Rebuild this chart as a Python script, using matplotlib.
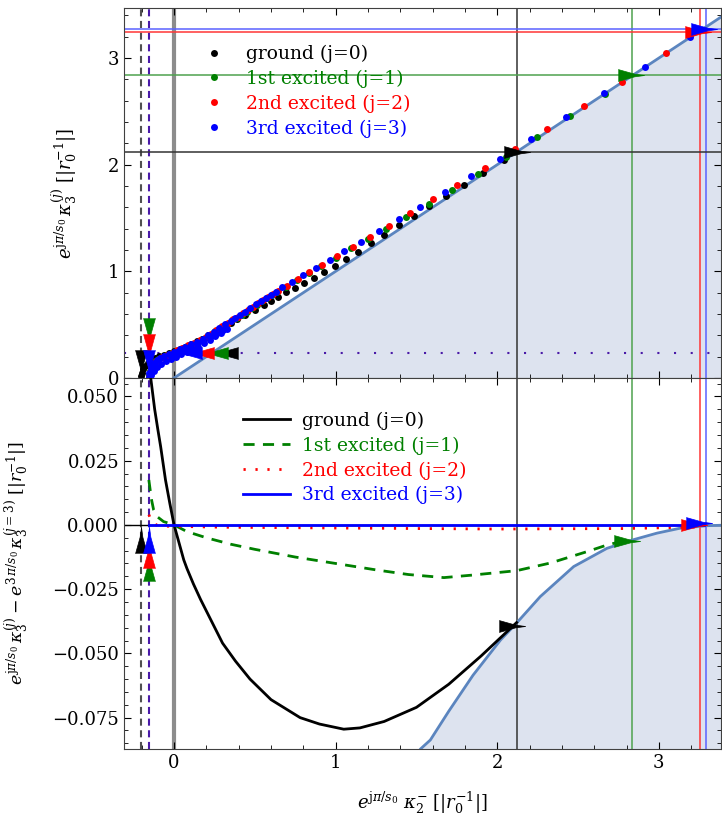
import numpy as np
import matplotlib
matplotlib.use("Agg")
import matplotlib.pyplot as plt
from matplotlib.ticker import MultipleLocator, FuncFormatter

plt.rcParams['font.family'] = ['DejaVu Serif']
plt.rcParams['mathtext.fontset'] = 'dejavuserif'

# ---- top panel: kappa3 vs kappa2 for each state ----
k2_ground = [-0.207, -0.2, -0.19, -0.178, -0.162, -0.143, -0.12, -0.095, -0.065, -0.033,
             0.0, 0.035, 0.07, 0.105, 0.14, 0.175, 0.21, 0.245, 0.28, 0.315,
             0.35, 0.39, 0.44, 0.5, 0.555, 0.597, 0.646, 0.695, 0.747, 0.803,
             0.863, 0.925, 0.993, 1.065, 1.139, 1.217, 1.302, 1.39, 1.483, 1.58,
             1.685, 1.797, 1.912, 2.04]
k3_ground = [0.02, 0.05, 0.08, 0.11, 0.14, 0.165, 0.19, 0.205, 0.22, 0.235,
             0.25, 0.27, 0.295, 0.32, 0.345, 0.37, 0.40, 0.43, 0.46, 0.49,
             0.52, 0.55, 0.59, 0.64, 0.684, 0.725, 0.762, 0.805, 0.846, 0.888,
             0.94, 0.993, 1.05, 1.115, 1.181, 1.262, 1.34, 1.43, 1.518, 1.61,
             1.71, 1.81, 1.92, 2.045]

k2_first = [-0.156, -0.151, -0.142, -0.13, -0.116, -0.098, -0.076, -0.05, -0.02, 0.012,
            0.046, 0.082, 0.118, 0.154, 0.19, 0.224, 0.256, 0.291, 0.326, 0.36,
            0.39, 0.42, 0.452, 0.485, 0.515, 0.545, 0.577, 0.608, 0.64, 0.69,
            0.758, 0.832, 0.912, 1.0, 1.098, 1.2, 1.314, 1.438, 1.575, 1.72,
            1.88, 2.054, 2.244, 2.452, 2.665]
k3_first = [0.03, 0.065, 0.1, 0.13, 0.155, 0.177, 0.196, 0.215, 0.233, 0.252,
            0.275, 0.298, 0.32, 0.346, 0.376, 0.407, 0.438, 0.474, 0.508, 0.54,
            0.565, 0.592, 0.622, 0.655, 0.688, 0.718, 0.746, 0.774, 0.802, 0.855,
            0.918, 0.98, 1.05, 1.128, 1.216, 1.30, 1.396, 1.506, 1.63, 1.762,
            1.912, 2.074, 2.259, 2.455, 2.665]

k2_second = [-0.156, -0.15, -0.14, -0.128, -0.113, -0.095, -0.072, -0.045, -0.015, 0.018,
             0.052, 0.088, 0.124, 0.16, 0.196, 0.23, 0.262, 0.297, 0.332, 0.365,
             0.395, 0.425, 0.457, 0.49, 0.52, 0.55, 0.582, 0.613, 0.645, 0.696,
             0.764, 0.838, 0.918, 1.007, 1.106, 1.211, 1.328, 1.458, 1.60, 1.753,
             1.922, 2.108, 2.31, 2.534, 2.772, 3.044]
k3_second = [0.012, 0.06, 0.1, 0.13, 0.158, 0.18, 0.198, 0.218, 0.236, 0.258,
             0.282, 0.305, 0.328, 0.355, 0.385, 0.417, 0.448, 0.485, 0.52, 0.55,
             0.576, 0.605, 0.637, 0.67, 0.703, 0.733, 0.762, 0.79, 0.82, 0.865,
             0.928, 0.99, 1.062, 1.14, 1.23, 1.324, 1.427, 1.543, 1.675, 1.812,
             1.968, 2.143, 2.334, 2.549, 2.775, 3.046]

# j=3 points; the low-kappa part is sampled densely and forms a thick band
k2_third = [-0.156, -0.152, -0.145, -0.135, -0.122, -0.105, -0.085, -0.06, -0.03, 0.0,
            0.035, 0.07, 0.105, 0.143, 0.18, 0.213, 0.245, 0.28, 0.315, 0.35,
            0.38, 0.41, 0.44, 0.473, 0.505, 0.535, 0.567, 0.597, 0.63, 0.665,
            0.731, 0.80, 0.879, 0.964, 1.054, 1.158, 1.269, 1.395, 1.52, 1.677,
            1.84, 2.02, 2.21, 2.427, 2.662, 2.916, 3.194,
            -0.15, -0.14, -0.125, -0.105, -0.08, -0.05, -0.02, 0.01, 0.045, 0.08,
            0.115, 0.15, 0.185, 0.22, 0.255, 0.29, 0.325,
            -0.02, 0.02, 0.06, 0.1, 0.14, 0.18, 0.22, 0.26, 0.3]
k3_third = [0.01, 0.045, 0.08, 0.115, 0.145, 0.17, 0.19, 0.208, 0.228, 0.245,
            0.27, 0.295, 0.317, 0.34, 0.37, 0.40, 0.434, 0.47, 0.503, 0.537,
            0.563, 0.59, 0.622, 0.656, 0.69, 0.722, 0.75, 0.778, 0.81, 0.85,
            0.903, 0.962, 1.031, 1.106, 1.187, 1.278, 1.378, 1.487, 1.605, 1.743,
            1.893, 2.055, 2.24, 2.443, 2.668, 2.918, 3.198,
            0.0, 0.03, 0.065, 0.1, 0.135, 0.16, 0.18, 0.2, 0.222, 0.245,
            0.27, 0.295, 0.325, 0.355, 0.39, 0.425, 0.46,
            0.215, 0.24, 0.265, 0.29, 0.318, 0.348, 0.38, 0.415, 0.45]

# threshold line kappa3 = kappa2
thr_x = [0.0, 3.45]
thr_y = [0.0, 3.45]

# ---- bottom panel: differences to the j=3 state ----
d_ground_x = [-0.152, -0.145, -0.12, -0.1, -0.083, -0.053, -0.025, 0.0, 0.06, 0.08,
              0.12, 0.164, 0.22, 0.3, 0.38, 0.47, 0.6, 0.78, 0.9, 1.05,
              1.15, 1.3, 1.5, 1.7, 1.9, 2.12]
d_ground_y = [0.066, 0.0575, 0.045, 0.037, 0.0305, 0.0175, 0.008, 0.0, -0.0136, -0.017,
              -0.023, -0.029, -0.036, -0.046, -0.053, -0.060, -0.068, -0.075, -0.0775, -0.0795,
              -0.079, -0.0765, -0.071, -0.062, -0.051, -0.038]

d_first_x = [-0.156, -0.14, -0.127, -0.1, -0.065, 0.0, 0.08, 0.2, 0.35, 0.5,
             0.75, 1.0, 1.25, 1.45, 1.67, 1.85, 2.12, 2.33, 2.555, 2.68, 2.83]
d_first_y = [0.0175, 0.01, 0.006, 0.003, 0.0013, 0.0, -0.0026, -0.005, -0.0075, -0.0095,
             -0.0125, -0.015, -0.0175, -0.0193, -0.0205, -0.0195, -0.0178, -0.0148, -0.0104, -0.0078, -0.0055]

d_second_x = [-0.156, -0.14, -0.11, -0.05, 0.3, 1.0, 2.0, 2.8, 3.245]
d_second_y = [0.004, 0.0015, 0.0, -0.0005, -0.0009, -0.0012, -0.0016, -0.0014, -0.0008]

d_third_x = [-0.156, 3.28]
d_third_y = [0.0, 0.0]

bnd_x = [1.5, 1.525, 1.586, 1.7, 1.85, 2.02, 2.118, 2.266, 2.473, 2.679,
         2.84, 2.988, 3.13, 3.297, 3.45]
bnd_y = [-0.0895, -0.0872, -0.0837, -0.0725, -0.0585, -0.0448, -0.0383, -0.0279, -0.0162, -0.0091,
         -0.0058, -0.0032, -0.0013, -0.0003, 0.0]

# end points (arrows) and reference lines
end_x_top = [2.12, 2.83, 3.245, 3.28]
end_y_top = [2.12, 2.84, 3.245, 3.275]
end_x_bot = [2.09, 2.805, 3.215, 3.25]
end_y_bot = [-0.0393, -0.0061, -0.0002, 0.0006]
vline_x = [2.12, 2.835, 3.255, 3.29]
hline_y = [2.12, 2.84, 3.245, 3.277]
start_x = [-0.207, -0.156, -0.156, -0.156]
start_y_top = [0.145, 0.445, 0.295, 0.145]
start_y_bot = [-0.006, -0.0168, -0.0117, -0.0058]
left_x = [0.315, 0.254, 0.167, 0.093]
left_y = 0.235

labels = ['ground (j=0)', '1st excited (j=1)', '2nd excited (j=2)', '3rd excited (j=3)']
cols = ['black', 'green', 'red', 'blue']
line_cols = ['0.2', '#4ea24e', '#ff3535', '#5a62ff']

arrow_r = [(-1, 0.45), (0.25, 0.1), (1, 0), (0.25, -0.1), (-1, -0.45)]
arrow_l = [(-x, y) for x, y in arrow_r]
arrow_d = [(y, -x) for x, y in arrow_r]
arrow_u = [(y, x) for x, y in arrow_r]

fill_col = '#dde3ef'
bnd_col = '#5b85bf'

fig = plt.figure(figsize=(7.22, 8.19), dpi=100)
ax1 = fig.add_axes([0.1717, 0.5385, 0.827, 0.4518])
ax2 = fig.add_axes([0.1717, 0.0855, 0.827, 0.453])

for ax in (ax1, ax2):
    ax.axvline(0, color='#8c8c8c', lw=3, zorder=1)
    ax.axvline(-0.207, color='#505050', lw=1.5, dashes=(3.4, 2.2), zorder=1)
    ax.axvline(-0.156, color='#4a1aa8', lw=1.5, dashes=(3.4, 2.2), zorder=1)
    for xv, c in zip(vline_x, line_cols):
        ax.axvline(xv, color=c, lw=1.1, zorder=1)

# top panel
ax1.fill_between(thr_x, -1, thr_y, color=fill_col, lw=0, zorder=0)
ax1.plot(thr_x, thr_y, color=bnd_col, lw=2, zorder=2)
for yv, c in zip(hline_y, line_cols):
    ax1.axhline(yv, color=c, lw=1.1, zorder=1)
ax1.axhline(left_y, color='#4a1aa8', lw=1.5, dashes=(1, 7), zorder=1)

series = [(k2_ground, k3_ground), (k2_first, k3_first), (k2_second, k3_second), (k2_third, k3_third)]
for (xs, ys), c, lab in zip(series, cols, labels):
    ax1.plot(xs, ys, 'o', color=c, ms=5, mew=0, label=lab, zorder=3)
for i, c in enumerate(cols):
    ax1.plot(start_x[i], start_y_top[i], marker=arrow_d, color=c, ms=19, mew=0.5, zorder=4)
for i, c in enumerate(cols):
    ax1.plot(left_x[i], left_y, marker=arrow_l, color=c, ms=19, mew=0.5, zorder=4)
for i, c in enumerate(cols):
    ax1.plot(end_x_top[i], end_y_top[i], marker=arrow_r, color=c, ms=19, mew=0.5, zorder=4)

ax1.set_xlim(-0.31, 3.385)
ax1.set_ylim(0, 3.47)
ax1.set_ylabel(r'$e^{\mathrm{j}\pi/s_0}\,\kappa_3^{(j)}\ [|r_0^{-1}|]$', fontsize=13)
ax1.yaxis.set_label_coords(-0.075, 0.5)
leg1 = ax1.legend(loc='upper left', bbox_to_anchor=(0.135, 0.90), frameon=False,
                  fontsize=13.5, handlelength=1.0, handletextpad=1.2, labelspacing=0.35,
                  borderpad=0, borderaxespad=0)
for t, c in zip(leg1.get_texts(), cols):
    t.set_color(c)

# bottom panel
ax2.fill_between(bnd_x, -1, bnd_y, color=fill_col, lw=0, zorder=0)
ax2.plot(bnd_x, bnd_y, color=bnd_col, lw=2, zorder=2)
ax2.axhline(0, color='black', lw=1, zorder=1)
ax2.plot(d_ground_x, d_ground_y, color='black', lw=2, label=labels[0], zorder=3)
ax2.plot(d_first_x, d_first_y, color='green', lw=2, dashes=(4, 3), label=labels[1], zorder=3)
ax2.plot(d_second_x, d_second_y, color='red', lw=2, dashes=(0.8, 3.5), label=labels[2], zorder=3)
ax2.plot(d_third_x, d_third_y, color='blue', lw=2, label=labels[3], zorder=3)
for i, c in enumerate(cols):
    ax2.plot(start_x[i], start_y_bot[i], marker=arrow_u, color=c, ms=19, mew=0.5, zorder=4)
for i, c in enumerate(cols):
    ax2.plot(end_x_bot[i], end_y_bot[i], marker=arrow_r, color=c, ms=19, mew=0.5, zorder=4)

ax2.set_xlim(-0.31, 3.385)
ax2.set_ylim(-0.0872, 0.0572)
ax2.set_xlabel(r'$e^{\mathrm{j}\pi/s_0}\ \kappa_2^{-}\ [|r_0^{-1}|]$', fontsize=13, labelpad=13)
ax2.set_ylabel(r'$e^{\mathrm{j}\pi/s_0}\,\kappa_3^{(j)}-e^{3\,\pi/s_0}\,\kappa_3^{(j=3)}\ [|r_0^{-1}|]$',
               fontsize=12.5)
ax2.yaxis.set_label_coords(-0.155, 0.5)
leg2 = ax2.legend(loc='upper left', bbox_to_anchor=(0.2, 0.909), frameon=False,
                  fontsize=13.5, handlelength=2.5, handletextpad=0.65, labelspacing=0.35,
                  borderpad=0, borderaxespad=0)
for t, c in zip(leg2.get_texts(), cols):
    t.set_color(c)

# ticks
ax1.xaxis.set_major_locator(MultipleLocator(1))
ax1.xaxis.set_minor_locator(MultipleLocator(0.2))
ax1.yaxis.set_major_locator(MultipleLocator(1))
ax1.yaxis.set_minor_locator(MultipleLocator(0.2))
ax1.tick_params(labelbottom=False)
ax2.xaxis.set_major_locator(MultipleLocator(1))
ax2.xaxis.set_minor_locator(MultipleLocator(0.2))
ax2.yaxis.set_major_locator(MultipleLocator(0.025))
ax2.yaxis.set_minor_locator(MultipleLocator(0.005))
ax2.yaxis.set_major_formatter(FuncFormatter(lambda v, p: f'{v:.3f}'.replace('-', '\u2212')))
for ax in (ax1, ax2):
    ax.tick_params(which='both', direction='in', top=True, right=True, labelsize=13)
    ax.tick_params(which='major', length=5)
    ax.tick_params(which='minor', length=3)
    for s in ax.spines.values():
        s.set_color('0.25')

fig.savefig('out.png', dpi=100)
